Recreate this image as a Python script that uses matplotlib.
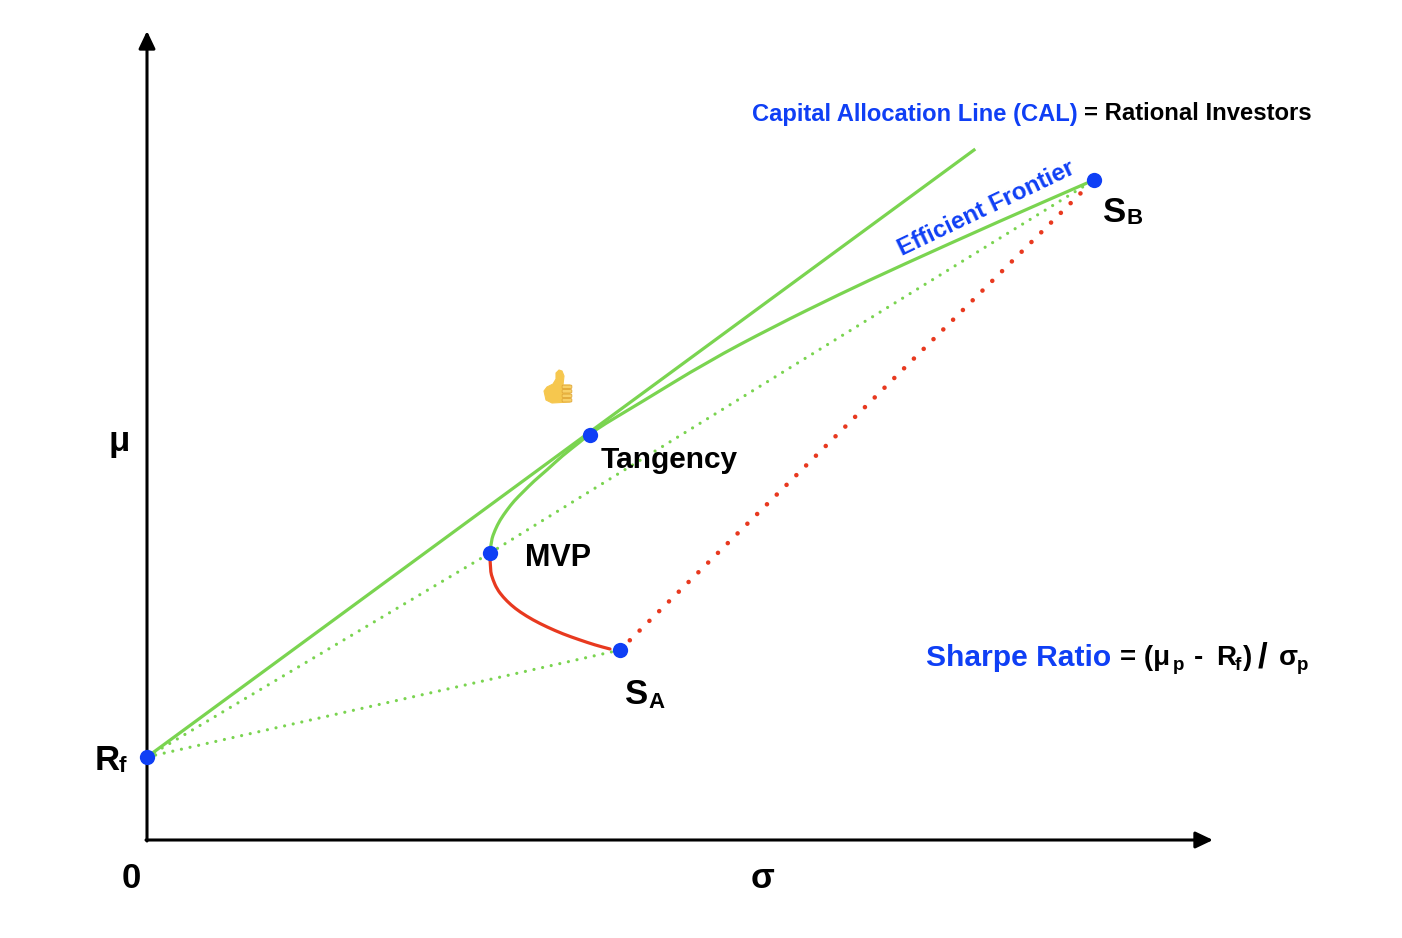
import matplotlib
matplotlib.use("Agg")
import matplotlib.pyplot as plt
from matplotlib.patches import FancyBboxPatch, PathPatch, Polygon
from matplotlib.path import Path

plt.rcParams["font.family"] = ["Liberation Sans", "DejaVu Sans"]
plt.rcParams["font.weight"] = "bold"

GREEN = "#7ad450"
RED = "#e8391f"
BLUE = "#0f3ff5"

rf = (147, 757)
mvp = (490, 553)
tangency = (590, 435)
sa = (620, 650)
sb = (1094, 180)
cal_end = (974, 150)

frontier_x = [490, 491, 495, 500, 507, 514, 523, 534, 547, 562, 580, 593, 640, 707, 773, 840, 900, 1000, 1087]
frontier_y = [553, 541, 530, 520, 510, 501, 492, 481, 470, 456, 442, 431, 403, 362, 327, 294, 266, 221, 183]
inefficient_x = [490, 490, 493, 497, 503, 511, 520, 533, 547, 563, 580, 595, 610]
inefficient_y = [553, 570, 580, 589, 597, 605, 612, 620, 627, 634, 640, 645, 649]


def smooth(xs, ys, color):
    # quadratic pieces with the read points as controls, keeps the curve free of kinks
    verts = [(xs[0], ys[0])]
    codes = [Path.MOVETO]
    for i in range(1, len(xs) - 1):
        verts.append((xs[i], ys[i]))
        verts.append(((xs[i] + xs[i + 1]) / 2, (ys[i] + ys[i + 1]) / 2))
        codes += [Path.CURVE3, Path.CURVE3]
    verts.append((xs[-1], ys[-1]))
    codes.append(Path.LINETO)
    ax.add_patch(PathPatch(Path(verts, codes), fc="none", ec=color, lw=2.3, capstyle="round"))


fig = plt.figure(figsize=(14.02, 9.38), dpi=100)
ax = fig.add_axes([0, 0, 1, 1])
ax.set_xlim(0, 1402)
ax.set_ylim(938, 0)
ax.axis("off")

# axes arrows
head = "-|>,head_width=0.5,head_length=1.05"
ax.annotate("", xy=(147, 31), xytext=(147, 841),
            arrowprops=dict(arrowstyle=head, color="black", lw=2.2, shrinkA=0, shrinkB=0))
ax.annotate("", xy=(1213, 840), xytext=(146, 840),
            arrowprops=dict(arrowstyle=head, color="black", lw=2.2, shrinkA=0, shrinkB=0))

# dotted lines
green_dots = dict(color=GREEN, lw=2.3, linestyle=(0, (0.01, 2.75)), dash_capstyle="round")
ax.plot([rf[0], sa[0]], [rf[1], sa[1]], **green_dots)
ax.plot([rf[0], mvp[0]], [rf[1], mvp[1]], **green_dots)
ax.plot([mvp[0], sb[0]], [mvp[1], sb[1]], **green_dots)
ax.plot([sa[0], sb[0]], [sa[1], sb[1]], color=RED, lw=3.3, linestyle=(0, (0.01, 3.0)), dash_capstyle="round")

# solid lines
ax.plot([rf[0], cal_end[0]], [rf[1], cal_end[1]], color=GREEN, lw=2.3)
smooth(frontier_x, frontier_y, GREEN)
smooth(inefficient_x, inefficient_y, RED)

# points
pts = [rf, mvp, tangency, sa, sb]
ax.plot([p[0] for p in pts], [p[1] for p in pts], "o", color=BLUE, ms=11, mec="none", zorder=5)

# labels
ax.text(601, 460, "Tangency", fontsize=21.5, va="center", color="black")
ax.text(525, 558, "MVP", fontsize=22, va="center", color="black")
ax.text(119, 441, "μ", fontsize=25, va="center", ha="center", color="black")
ax.text(131, 878, "0", fontsize=25, va="center", ha="center", color="black")
ax.text(762, 879, "σ", fontsize=25, va="center", ha="center", color="black")

ax.text(95, 760, "R", fontsize=25, va="center", color="black")
ax.text(119, 767, "f", fontsize=16, va="center", color="black")
ax.text(625, 695, "S", fontsize=25, va="center", color="black")
ax.text(648, 702, "A", fontsize=16, va="center", color="black")
ax.text(1103, 212, "S", fontsize=25, va="center", color="black")
ax.text(1126, 219, "B", fontsize=16, va="center", color="black")

ax.text(752, 114, "Capital Allocation Line (CAL)", fontsize=17.1, va="center", color=BLUE)
ax.text(1084, 114, "= Rational Investors", fontsize=17.2, va="center", color="black")
ax.text(986, 209, "Efficient Frontier", fontsize=17.4, va="center", ha="center", rotation=25.5,
        rotation_mode="anchor", color=BLUE)

ax.text(926, 658, "Sharpe Ratio", fontsize=21.6, va="center", color=BLUE)
sub_y = 665
ax.text(1120, 658, "= (μ", fontsize=20, va="center", color="black")
ax.text(1173, sub_y, "p", fontsize=13.5, va="center", color="black")
ax.text(1194, 658, "-", fontsize=20, va="center", color="black")
ax.text(1216, 658, "R", fontsize=20, va="center", color="black")
ax.text(1235, sub_y, "f", fontsize=13.5, va="center", color="black")
ax.text(1243, 658, ")", fontsize=20, va="center", color="black")
ax.text(1258, 658, "/", fontsize=25, va="center", color="black")
ax.text(1279, 658, "σ", fontsize=20, va="center", color="black")
ax.text(1297, sub_y, "p", fontsize=13.5, va="center", color="black")

# thumbs up, drawn since no emoji font is available
thumb = Polygon([(544, 391), (547, 387), (553, 384), (556, 379), (556, 373), (559, 370), (562, 371),
                 (564, 376), (563, 385), (570, 385), (570, 402), (552, 403), (546, 400)],
                closed=True, fc="#f6c74e", ec="#f6c74e", lw=0.8, joinstyle="round", zorder=4)
ax.add_patch(thumb)
for fy in [386, 390.5, 395, 399.5]:
    ax.add_patch(FancyBboxPatch((563, fy), 8, 1.6, boxstyle="round,pad=0.9", fc="#f8d066", ec="#dc9f30", lw=0.5, zorder=5))

fig.savefig("out.png", dpi=100)
